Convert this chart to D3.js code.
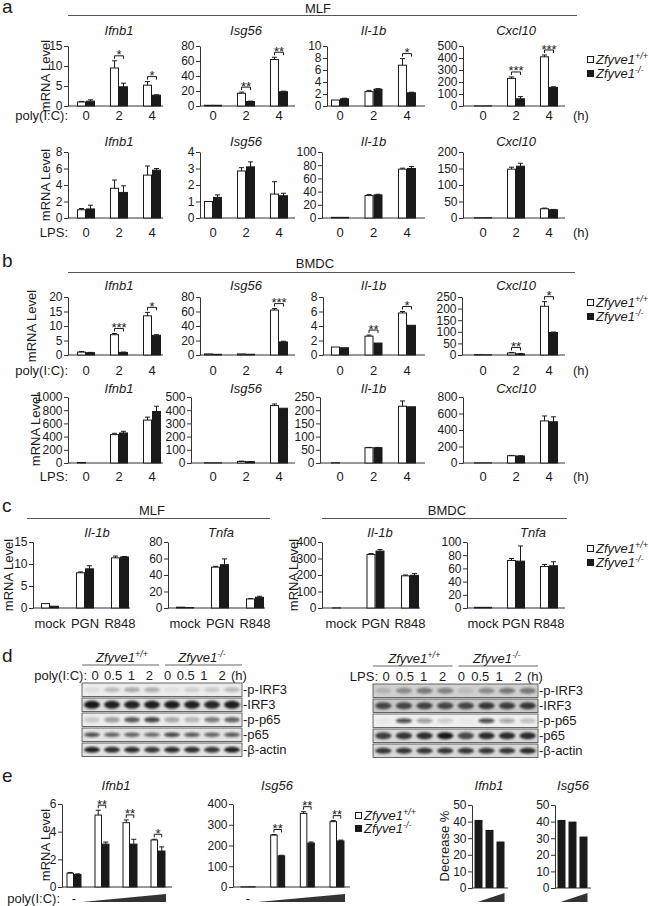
<!DOCTYPE html>
<html>
<head>
<meta charset="utf-8">
<script src="https://cdn.jsdelivr.net/npm/d3@7"></script>
<style>
body { margin: 0; background: #fff; }
svg text { font-family: "Liberation Sans", Arial, sans-serif; fill: #1a1a1a; }
</style>
</head>
<body>
<svg id="fig" width="649" height="906"></svg>
<script>
'use strict'
// ---- data ----
const genes = ["Ifnb1", "Isg56", "Il-1b", "Cxcl10"];
const hours = ["0", "2", "4"];

// a: MLF, poly(I:C)
const aPolyTicks = [[0,5,10,15],[0,20,40,60,80],[0,2,4,6,8,10],[0,100,200,300,400,500]];
const aPolyWt    = [[1,9.5,5.2],[1,17,62],[1,2.4,6.8],[1,230,410]];
const aPolyWtErr = [[0.15,1.8,0.9],[0,1.5,3],[0,0.2,1.1],[0,12,15]];
const aPolyKo    = [[1.2,4.8,2.7],[1,6,19],[1.2,2.8,2.2],[1,60,155]];
const aPolyKoErr = [[0.35,0.9,0.1],[0,0.5,0.8],[0.1,0.1,0.1],[0,18,5]];
const aPolySig   = [["","*","*"],["","**","**"],["","","*"],["","***","***"]];

// a: MLF, LPS
const aLpsTicks  = [[0,2,4,6,8],[0,1,2,3,4],[0,20,40,60,80,100],[0,50,100,150,200]];
const aLpsWt     = [[1,3.6,5.2],[1,2.85,1.45],[1,34,74],[1,148,28]];
const aLpsWtErr  = [[0.15,1.0,1.1],[0,0.2,0.75],[0,1.5,1.5],[0,6,2]];
const aLpsKo     = [[1.1,3.1,5.8],[1.25,3.1,1.35],[1,35,75],[1,157,25]];
const aLpsKoErr  = [[0.45,0.8,0.2],[0.15,0.3,0.15],[0,1,3],[0,9,1]];

// b: BMDC, poly(I:C)
const bPolyTicks = [[0,5,10,15,20],[0,20,40,60,80],[0,2,4,6,8],[0,50,100,150,200,250]];
const bPolyWt    = [[1,7,13.5],[1.5,1.5,62],[1.1,2.6,5.8],[2,9,210]];
const bPolyWtErr = [[0.2,0.4,1.2],[0,0,2],[0,0.15,0.2],[0,2,20]];
const bPolyKo    = [[0.8,0.9,6.8],[1,1,18],[1,1.65,4.1],[1,5,97]];
const bPolyKoErr = [[0.1,0.1,0.2],[0,0,1],[0,0,0],[0,1,2]];
const bPolySig   = [["","***","*"],["","","***"],["","**","*"],["","**","*"]];

// b: BMDC, LPS
const bLpsTicks  = [[0,200,400,600,800,1000],[0,100,200,300,400,500],[0,50,100,150,200,250],[0,200,400,600,800]];
const bLpsWt     = [[8,430,650],[2,12,435],[1,58,215],[2,88,510]];
const bLpsWtErr  = [[0,20,45],[0,2,12],[0,1,20],[0,4,60]];
const bLpsKo     = [[0,455,780],[1,10,415],[0,58,213],[1,85,500]];
const bLpsKoErr  = [[0,25,80],[0,1,0],[0,1,0],[0,3,60]];

// c: TLR ligands
const stimuli = ["mock", "PGN", "R848"];
const cGenes  = ["Il-1b", "Tnfa", "Il-1b", "Tnfa"];
const cTicks  = [[0,5,10,15],[0,20,40,60,80],[0,100,200,300,400],[0,20,40,60,80,100]];
const cWt     = [[1,8,11.4],[1,49.5,11],[1,325,195],[1,72,63]];
const cWtErr  = [[0,0.2,0.4],[0,1,0.5],[0,5,5],[0,3,3]];
const cKo     = [[0.4,8.9,11.6],[0.5,52.5,13],[0,345,198],[1,71,64]];
const cKoErr  = [[0,0.7,0.1],[0,7,1.2],[0,10,10],[0,23,6]];

// d: western blots (band darkness 0..1)
const blotLanes = ["0","0.5","1","2","0","0.5","1","2"];
const blotRows  = ["p-IRF3", "IRF3", "p-p65", "p65", "β-actin"];
const polyBlot = [
  [0.06,0.22,0.3,0.28,0.05,0.12,0.15,0.22],
  [0.95,0.9,0.9,0.92,0.92,0.9,0.88,0.92],
  [0.15,0.35,0.65,0.75,0.3,0.25,0.5,0.6],
  [0.7,0.6,0.6,0.55,0.75,0.65,0.6,0.65],
  [0.9,0.85,0.85,0.8,0.85,0.85,0.8,0.9]];
const lpsBlot = [
  [0.15,0.35,0.45,0.4,0.1,0.35,0.45,0.45],
  [0.7,0.7,0.72,0.7,0.7,0.78,0.75,0.78],
  [0.03,0.7,0.35,0.15,0.03,0.7,0.3,0.2],
  [0.75,0.8,0.85,0.95,0.7,0.85,0.85,0.85],
  [0.8,0.8,0.8,0.8,0.8,0.8,0.8,0.85]];

// e: poly(I:C) dose
const doses   = ["-", "d1", "d2", "d3"];
const eGenes  = ["Ifnb1", "Isg56"];
const eTicks  = [[0,2,4,6],[0,100,200,300,400]];
const eWt     = [[1.0,5.2,4.65,3.4],[1,250,355,315]];
const eWtErr  = [[0.05,0.35,0.2,0.05],[0,3,8,5]];
const eKo     = [[0.9,3.1,3.1,2.6],[1,150,212,222]];
const eKoErr  = [[0.05,0.15,0.35,0.3],[0,3,5,4]];
const eSig    = [["","**","**","*"],["","**","**","**"]];
const decTicks  = [0,10,20,30,40,50];
const decIfnb1  = [41,35,28];
const decIsg56  = [41,40,31];

// ---- drawing ----
const svg = d3.select("#fig");
svg.append("rect").attr("width", 649).attr("height", 906).attr("fill", "#fff");
svg.append("defs").append("filter").attr("id", "blur")
  .attr("x", "-50%").attr("y", "-100%").attr("width", "200%").attr("height", "300%")
  .append("feGaussianBlur").attr("stdDeviation", 1.1);

const ink = "#1a1a1a";
const fmt = d => String(d);

function txt(g, x, y, s, size, anchor, italic) {
  return g.append("text").attr("x", x).attr("y", y).text(s)
    .attr("font-size", size || 13)
    .attr("text-anchor", anchor || "start")
    .attr("font-style", italic ? "italic" : null);
}

function hline(g, x1, x2, y, color) {
  g.append("line").attr("x1", x1).attr("x2", x2).attr("y1", y).attr("y2", y)
    .attr("stroke", color || "#333").attr("stroke-width", 1);
}

function yLabel(g, x, y, s) {
  g.append("text").attr("transform", `translate(${x},${y}) rotate(-90)`)
    .attr("text-anchor", "middle").attr("font-size", 13).text(s);
}

function legend(g, x, y1, y2) {
  [[y1, "#fff", "+/+"], [y2, ink, "-/-"]].forEach(([yy, fill, sup]) => {
    g.append("rect").attr("x", x + 0.5).attr("y", yy - 7.5).attr("width", 6).attr("height", 6)
      .attr("fill", fill).attr("stroke", ink);
    const t = g.append("text").attr("x", x + 9).attr("y", yy).attr("font-size", 13).attr("font-style", "italic");
    t.append("tspan").text("Zfyve1");
    t.append("tspan").attr("dy", -5).attr("font-size", 9).text(sup);
  });
}

function genotype(g, x, y, sup) {
  const t = g.append("text").attr("x", x).attr("y", y).attr("font-size", 13)
    .attr("font-style", "italic").attr("text-anchor", "middle");
  t.append("tspan").text("Zfyve1");
  t.append("tspan").attr("dy", -5).attr("font-size", 9).text(sup);
}

function leftAxis(g, x0, y, ticks) {
  const ax = g.append("g").attr("transform", `translate(${x0},0)`)
    .call(d3.axisLeft(y).tickValues(ticks).tickFormat(fmt).tickSize(4).tickPadding(1.5).tickSizeOuter(0));
  ax.attr("font-size", 12);
  ax.selectAll("line").attr("stroke", "#333");
  ax.select(".domain").attr("stroke", "#333");
  return ax;
}

function barChart(g, o) {
  const bw = o.bw || 9;
  const x = d3.scalePoint().domain(o.cats).range(o.range);
  const y = d3.scaleLinear().domain([0, d3.max(o.ticks)]).range([o.yBot, o.yTop]);

  leftAxis(g, o.ax, y, o.ticks);
  hline(g, o.ax, o.end, o.yBot);

  const series = [
    { v: o.wt, e: o.wtErr, dx: -bw, fill: "#fff" },
    { v: o.ko, e: o.koErr, dx: 0, fill: ink }];

  series.forEach(s => {
    const rows = o.cats.map((c, i) => ({ c: c, v: s.v[i], e: s.e[i] }));
    g.selectAll(null).data(rows).enter().append("rect")
      .attr("x", d => x(d.c) + s.dx + 0.5)
      .attr("y", d => y(d.v))
      .attr("width", bw - 1)
      .attr("height", d => o.yBot - y(d.v))
      .attr("fill", s.fill).attr("stroke", ink).attr("stroke-width", 1);
    const eb = rows.filter(d => d.e > 0);
    g.selectAll(null).data(eb).enter().append("path")
      .attr("d", d => {
        const cx = x(d.c) + s.dx + bw / 2;
        return `M${cx},${y(d.v)}V${y(d.v + d.e)}M${cx - 2.5},${y(d.v + d.e)}H${cx + 2.5}`;
      })
      .attr("stroke", ink).attr("fill", "none");
  });

  if (o.sig) {
    const sigs = o.cats.map((c, i) => ({
      c: c, s: o.sig[i],
      top: Math.min(y(o.wt[i] + o.wtErr[i]), y(o.ko[i] + o.koErr[i]))
    })).filter(d => d.s);
    sigs.forEach(d => {
      const yb = d.top - 5;
      g.append("path")
        .attr("d", `M${x(d.c) - bw / 2},${yb + 3}V${yb}H${x(d.c) + bw / 2}V${yb + 3}`)
        .attr("stroke", ink).attr("fill", "none");
      txt(g, x(d.c), yb + 3.5, d.s, 13, "middle");
    });
  }

  if (o.labY) {
    o.cats.forEach((c, i) => {
      const lab = o.labels ? o.labels[i] : c;
      if (lab) txt(g, x(c), o.labY, lab, 13, "middle");
    });
  }
  if (o.title) {
    const tx = o.titleX != null ? o.titleX : (o.range[0] + o.range[1]) / 2;
    txt(g, tx, o.titleY, o.title, 13, "middle", true);
  }
  return x;
}

function wedge(g, x0, x1, yb, h) {
  g.append("path").attr("d", `M${x0},${yb}L${x1},${yb - h}L${x1},${yb}Z`).attr("fill", "#333");
}

// panel letters
[["a", 13], ["b", 267], ["c", 512], ["d", 662], ["e", 782]].forEach(([l, yy]) => {
  txt(svg, 2, yy, l, 19);
});

// ---- panels a and b ----
const cols = [
  { range: [86, 152], end: 163 },
  { range: [213, 279], end: 295 },
  { range: [340, 407], end: 425 },
  { range: [483, 549], end: 565 }];

const rowDefs = [
  { yTop: 46, yBot: 106, titleY: 35, labY: 120, ax: [68, 200, 327, 463], prefix: "poly(I:C):", ylabX: 50,
    ticks: aPolyTicks, wt: aPolyWt, wtErr: aPolyWtErr, ko: aPolyKo, koErr: aPolyKoErr, sig: aPolySig },
  { yTop: 152, yBot: 218, titleY: 146, labY: 237, ax: [68, 200, 322, 463], prefix: "LPS:", ylabX: 50,
    ticks: aLpsTicks, wt: aLpsWt, wtErr: aLpsWtErr, ko: aLpsKo, koErr: aLpsKoErr },
  { yTop: 297, yBot: 355, titleY: 290, labY: 375, ax: [68, 200, 323, 462], prefix: "poly(I:C):", ylabX: 36,
    ticks: bPolyTicks, wt: bPolyWt, wtErr: bPolyWtErr, ko: bPolyKo, koErr: bPolyKoErr, sig: bPolySig },
  { yTop: 397, yBot: 463, titleY: 393, labY: 481, ax: [68, 191, 320, 463], prefix: "LPS:", ylabX: 40,
    ticks: bLpsTicks, wt: bLpsWt, wtErr: bLpsWtErr, ko: bLpsKo, koErr: bLpsKoErr }];

const ab = svg.append("g");
rowDefs.forEach(r => {
  genes.forEach((gene, j) => {
    barChart(ab, {
      cats: hours, range: cols[j].range, end: cols[j].end, ax: r.ax[j],
      yTop: r.yTop, yBot: r.yBot, ticks: r.ticks[j],
      wt: r.wt[j], wtErr: r.wtErr[j], ko: r.ko[j], koErr: r.koErr[j],
      sig: r.sig ? r.sig[j] : null,
      title: gene, titleY: r.titleY, labY: r.labY
    });
  });
  txt(ab, 68, r.labY, r.prefix, 13, "end");
  txt(ab, 573, r.labY, "(h)", 13);
  yLabel(ab, r.ylabX, (r.yTop + r.yBot) / 2, "mRNA Level");
});

txt(ab, 318, 13, "MLF", 13, "middle");
hline(ab, 68, 577, 15.5, "#555");
txt(ab, 315, 268, "BMDC", 13, "middle");
hline(ab, 68, 575, 272.5, "#555");
legend(ab, 587, 64, 78);
legend(ab, 587, 307, 321);

// ---- panel c ----
const cg = svg.append("g");
const cLayout = [
  { ax: 33, range: [50, 120], end: 130, titleX: 97 },
  { ax: 168, range: [185, 255], end: 265, titleX: 221 },
  { ax: 322, range: [341, 410], end: 420, titleX: 380 },
  { ax: 467, range: [483, 549], end: 565, titleX: 533 }];
cGenes.forEach((gene, j) => {
  barChart(cg, {
    cats: stimuli, range: cLayout[j].range, end: cLayout[j].end, ax: cLayout[j].ax,
    yTop: 542, yBot: 608, ticks: cTicks[j],
    wt: cWt[j], wtErr: cWtErr[j], ko: cKo[j], koErr: cKoErr[j],
    title: gene, titleX: cLayout[j].titleX, titleY: 537, labY: 628
  });
});
yLabel(cg, 13, 575, "mRNA Level");
yLabel(cg, 298, 575, "mRNA Level");
txt(cg, 152, 515, "MLF", 13, "middle");
hline(cg, 27, 270, 518.5, "#555");
txt(cg, 447, 515, "BMDC", 13, "middle");
hline(cg, 322, 567, 518.5, "#555");
legend(cg, 587, 553, 567);

// ---- panel d ----
function blot(g, o) {
  const x = d3.scaleBand().domain(d3.range(blotLanes.length)).range([o.x0, o.x1]);
  const xl = d3.scalePoint().domain(d3.range(blotLanes.length)).range([o.x0 + 13, o.x1 - 20]);
  const rowH = 13.5, step = 15;
  blotRows.forEach((name, r) => {
    const y0 = o.y0 + r * step;
    g.append("rect").attr("x", o.x0).attr("y", y0).attr("width", o.x1 - o.x0).attr("height", rowH)
      .attr("fill", o.bg[r]).attr("stroke", "#444").attr("stroke-width", 0.8);
    g.selectAll(null).data(o.vals[r]).enter().append("ellipse")
      .attr("cx", (d, i) => x(i) + x.bandwidth() / 2)
      .attr("cy", y0 + rowH / 2)
      .attr("rx", x.bandwidth() * 0.4)
      .attr("ry", o.ry[r])
      .attr("fill", "#111")
      .attr("opacity", d => d)
      .attr("filter", "url(#blur)");
    txt(g, o.x1 + 1, y0 + 11, "-" + name, 13);
  });
  blotLanes.forEach((l, i) => txt(g, xl(i), o.y0 - 3, l, 13, "middle"));
  txt(g, o.x0 + 5, o.y0 - 3, o.prefix, 13, "end");
  txt(g, o.x1 - 11, o.y0 - 3, "(h)", 13);
  const mid = (o.x0 + o.x1) / 2;
  genotype(g, (o.x0 + mid) / 2, o.y0 - 21, "+/+");
  genotype(g, (mid + o.x1) / 2, o.y0 - 21, "-/-");
  hline(g, o.x0, mid - 3, o.y0 - 18, "#666");
  hline(g, mid + 3, o.x1, o.y0 - 18, "#666");
}
const dg = svg.append("g");
blot(dg, { x0: 82, x1: 242, y0: 683, prefix: "poly(I:C):", vals: polyBlot,
  bg: ["#ececec", "#dedede", "#ececec", "#e2e2e2", "#e4e4e4"], ry: [2.5, 4, 2.8, 2.2, 3] });
blot(dg, { x0: 373, x1: 538, y0: 684, prefix: "LPS:", vals: lpsBlot,
  bg: ["#d0d0d0", "#c8c8c8", "#efefef", "#d8d8d8", "#d8d8d8"], ry: [3, 3.5, 2.5, 3.5, 3] });

// ---- panel e ----
const eg = svg.append("g");
const eLayout = [
  { ax: 62, range: [74, 158], end: 172, titleX: 116 },
  { ax: 233, range: [248, 337], end: 350, titleX: 277 }];
eGenes.forEach((gene, j) => {
  const x = barChart(eg, {
    cats: doses, labels: ["-", "", "", ""], range: eLayout[j].range, end: eLayout[j].end, ax: eLayout[j].ax,
    yTop: 804, yBot: 887, ticks: eTicks[j], bw: 7.5,
    wt: eWt[j], wtErr: eWtErr[j], ko: eKo[j], koErr: eKoErr[j], sig: eSig[j],
    title: gene, titleX: eLayout[j].titleX, titleY: 790, labY: 903
  });
  wedge(eg, x(doses[1]) - 20, x(doses[3]) + 8, 902, 8);
});
txt(eg, 60, 903, "poly(I:C):", 13, "end");
yLabel(eg, 50, 845, "mRNA Level");
legend(eg, 355, 820, 833);

// decrease %
const decLayout = [
  { ax: 472, vals: decIfnb1, title: "Ifnb1", titleX: 489 },
  { ax: 555, vals: decIsg56, title: "Isg56", titleX: 573 }];
decLayout.forEach(o => {
  const x = d3.scalePoint().domain(d3.range(o.vals.length)).range([o.ax + 6.5, o.ax + 28.5]);
  const y = d3.scaleLinear().domain([0, d3.max(decTicks)]).range([888, 805]);
  leftAxis(eg, o.ax, y, decTicks);
  hline(eg, o.ax, o.ax + 36, 888);
  eg.selectAll(null).data(o.vals).enter().append("rect")
    .attr("x", (d, i) => x(i) - 4).attr("y", d => y(d))
    .attr("width", 8).attr("height", d => 888 - y(d)).attr("fill", ink);
  txt(eg, o.titleX, 790, o.title, 13, "middle", true);
  wedge(eg, x(0) - 1, x(2) + 4, 902, 9);
});
yLabel(eg, 449, 846, "Decrease %");
</script>
</body>
</html>
